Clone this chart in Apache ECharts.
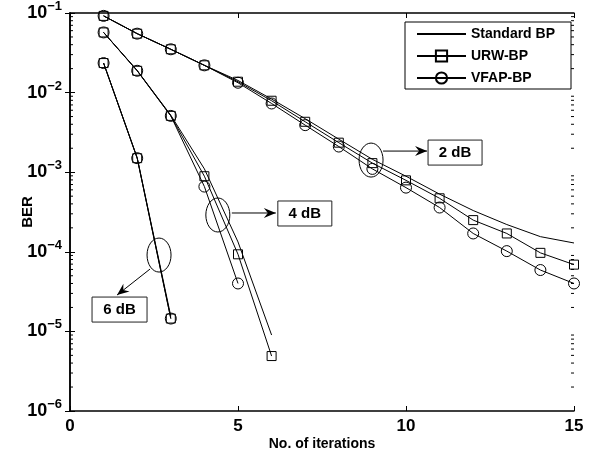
<!DOCTYPE html>
<html>
<head>
<meta charset="utf-8">
<script src="https://cdn.jsdelivr.net/npm/echarts@6/dist/echarts.min.js"></script>
<style>
html, body { margin: 0; padding: 0; background: #fff; }
#ber { width: 596px; height: 457px; }
</style>
</head>
<body>
<div id="ber"></div>
<script>
var myChart = echarts.init(document.getElementById('ber'));
var FONT = '"Liberation Sans", Arial, Helvetica, sans-serif';

// iterations and BER values
// 2 dB
var iter2 = [1, 2, 3, 4, 5, 6, 7, 8, 9, 10, 11, 12, 13, 14, 15];
var std2  = [0.092, 0.055, 0.035, 0.022, 0.0142, 0.0083, 0.0047, 0.0026, 0.00145, 0.00089, 0.00053, 0.00033, 0.00022, 0.000155, 0.000129];
var urw2  = [0.092, 0.055, 0.035, 0.022, 0.0137, 0.0079, 0.0043, 0.00235, 0.0013, 0.00079, 0.00047, 0.00025, 0.00017, 0.000097, 0.000069];
var vfap2 = [0.092, 0.055, 0.035, 0.022, 0.0133, 0.0073, 0.0039, 0.0021, 0.0011, 0.00064, 0.00036, 0.00017, 0.000102, 0.000059, 0.00004];
// 4 dB
var iter4  = [1, 2, 3, 4, 5, 6];
var std4   = [0.057, 0.019, 0.0052, 0.0011, 0.000133, 0.000009];
var urw4   = [0.057, 0.0188, 0.0051, 0.00089, 0.000093, 0.0000049];
var iter4v = [1, 2, 3, 4, 5];
var vfap4  = [0.057, 0.0188, 0.0051, 0.00066, 0.00004];
// 6 dB
var iter6 = [1, 2, 3];
var std6  = [0.0235, 0.00152, 0.0000155];
var urw6  = [0.0235, 0.0015, 0.0000145];
var vfap6 = [0.0235, 0.0015, 0.0000145];

var legendNames = ['Standard BP', 'URW-BP', 'VFAP-BP'];
var xTicks = [0, 5, 10, 15];
var minorTicks = [];
for (var e = -6; e <= -2; e++) {
    for (var m = 2; m <= 9; m++) minorTicks.push([0, m * Math.pow(10, e)]);
}

// annotations: label, ellipse centre in data units
var notes = [
    { text: '2 dB', at: [8.96, 1.42e-3], arrow: [12, -9, 56, -9], box: [57, -20, 54, 25] },
    { text: '4 dB', at: [4.40, 2.9e-4], arrow: [14, -2, 58, -2], box: [60, -14, 54, 25] },
    { text: '6 dB', at: [2.65, 9.1e-5], arrow: [-9, 14, -42, 40], box: [-67, 42, 55, 25] }
];

function pairs(xs, ys) {
    return xs.map(function (x, i) { return [x, ys[i]]; });
}

function lineSeries(name, data, symbol, size) {
    var plain = symbol === 'none';
    return {
        type: 'line',
        name: name,
        data: data,
        symbol: symbol,
        symbolSize: size,
        showSymbol: !plain,
        lineStyle: { color: '#000', width: 1 },
        itemStyle: plain
            ? { color: 'rgba(255,255,255,0)', borderColor: 'rgba(0,0,0,0)', borderWidth: 0 }
            : { color: 'rgba(255,255,255,0)', borderColor: '#000', borderWidth: 1 },
        emphasis: { disabled: true },
        z: 3
    };
}

var series = [
    lineSeries('Standard BP', pairs(iter2, std2), 'none', 0),
    lineSeries('URW-BP', pairs(iter2, urw2), 'rect', 9),
    lineSeries('VFAP-BP', pairs(iter2, vfap2), 'circle', 11),
    lineSeries('Standard BP', pairs(iter4, std4), 'none', 0),
    lineSeries('URW-BP', pairs(iter4, urw4), 'rect', 9),
    lineSeries('VFAP-BP', pairs(iter4v, vfap4), 'circle', 11),
    lineSeries('Standard BP', pairs(iter6, std6), 'none', 0),
    lineSeries('URW-BP', pairs(iter6, urw6), 'rect', 9),
    lineSeries('VFAP-BP', pairs(iter6, vfap6), 'circle', 11),
    {
        // minor log ticks on left and right edges
        type: 'custom',
        name: 'minor',
        silent: true,
        data: minorTicks,
        renderItem: function (params, api) {
            var y = api.coord([0, api.value(1)])[1];
            var cs = params.coordSys;
            var st = { stroke: '#000', lineWidth: 1 };
            return {
                type: 'group',
                children: [
                    { type: 'line', shape: { x1: cs.x, y1: y, x2: cs.x + 3, y2: y }, style: st },
                    { type: 'line', shape: { x1: cs.x + cs.width - 3, y1: y, x2: cs.x + cs.width, y2: y }, style: st }
                ]
            };
        },
        z: 4
    }
];

var option = {
    backgroundColor: '#fff',
    animation: false,
    grid: { left: 70, right: 22, top: 13, bottom: 46 },
    legend: {
        data: legendNames,
        orient: 'vertical',
        left: 405,
        top: 22,
        itemWidth: 49,
        itemHeight: 14,
        itemGap: 8,
        padding: [5, 16, 4, 11],
        borderColor: '#000',
        borderWidth: 1,
        backgroundColor: '#fff',
        textStyle: { fontFamily: FONT, fontSize: 14, fontWeight: 'bold', color: '#000' }
    },
    xAxis: [{
        type: 'value',
        min: 0,
        max: 15,
        interval: 5,
        name: 'No. of iterations',
        nameLocation: 'middle',
        nameGap: 26,
        nameMoveOverlap: false,
        nameTextStyle: { fontFamily: FONT, fontSize: 14, fontWeight: 'bold', color: '#000' },
        axisLine: { lineStyle: { color: '#000', width: 1.5 } },
        axisTick: { inside: true, length: 5, lineStyle: { color: '#000' } },
        axisLabel: {
            margin: 7, fontFamily: FONT, fontSize: 17, fontWeight: 'bold', color: '#000',
            customValues: xTicks
        },
        splitLine: { show: false }
    }, {
        type: 'value',
        position: 'top',
        min: 0,
        max: 15,
        interval: 5,
        axisLine: { lineStyle: { color: '#000', width: 1.5 } },
        axisTick: { inside: true, length: 5, lineStyle: { color: '#000' } },
        axisLabel: { show: false },
        splitLine: { show: false }
    }],
    yAxis: [{
        type: 'log',
        min: 1e-6,
        max: 1e-1,
        logBase: 10,
        name: 'BER',
        nameLocation: 'middle',
        nameGap: 35,
        nameMoveOverlap: false,
        nameTextStyle: { fontFamily: FONT, fontSize: 15, fontWeight: 'bold', color: '#000' },
        axisLine: { lineStyle: { color: '#000', width: 1.5 } },
        axisTick: { inside: true, length: 5, lineStyle: { color: '#000' } },
        axisLabel: {
            margin: 8,
            formatter: function (v) {
                return '{b|10}{s|' + String(Math.round(Math.log10(v))).replace('-', '\u2212') + '}';
            },
            rich: {
                b: { fontFamily: FONT, fontSize: 18, fontWeight: 'bold', color: '#000', lineHeight: 26 },
                s: { fontFamily: FONT, fontSize: 13, fontWeight: 'bold', color: '#000', lineHeight: 13, verticalAlign: 'top' }
            }
        },
        splitLine: { show: false }
    }, {
        type: 'log',
        position: 'right',
        min: 1e-6,
        max: 1e-1,
        logBase: 10,
        axisLine: { lineStyle: { color: '#000', width: 1.5 } },
        axisTick: { inside: true, length: 5, lineStyle: { color: '#000' } },
        axisLabel: { show: false },
        splitLine: { show: false }
    }],
    series: series
};

myChart.setOption(option, true);

// ellipses, arrows and boxed labels placed from data coordinates
function arrowHead(x1, y1, x2, y2) {
    var dx = x2 - x1, dy = y2 - y1, len = Math.sqrt(dx * dx + dy * dy);
    var ux = dx / len, uy = dy / len, px = -uy, py = ux;
    var L = 12, W = 5, N = 8;
    return [
        [x2, y2],
        [x2 - ux * L + px * W, y2 - uy * L + py * W],
        [x2 - ux * N, y2 - uy * N],
        [x2 - ux * L - px * W, y2 - uy * L - py * W]
    ];
}

var graphics = [];
notes.forEach(function (n) {
    var c = myChart.convertToPixel({ xAxisIndex: 0, yAxisIndex: 0 }, n.at);
    var cx = c[0], cy = c[1];
    var a = n.arrow, b = n.box;
    graphics.push({
        type: 'ellipse', shape: { cx: cx, cy: cy, rx: 12, ry: 17 },
        style: { fill: null, stroke: '#000', lineWidth: 1 }, z: 10
    });
    graphics.push({
        type: 'line', shape: { x1: cx + a[0], y1: cy + a[1], x2: cx + a[2], y2: cy + a[3] },
        style: { stroke: '#000', lineWidth: 1 }, z: 10
    });
    graphics.push({
        type: 'polygon', shape: { points: arrowHead(cx + a[0], cy + a[1], cx + a[2], cy + a[3]) },
        style: { fill: '#000' }, z: 10
    });
    graphics.push({
        type: 'rect', shape: { x: cx + b[0], y: cy + b[1], width: b[2], height: b[3] },
        style: { fill: '#fff', stroke: '#222', lineWidth: 1 }, z: 10
    });
    graphics.push({
        type: 'text',
        x: cx + b[0] + b[2] / 2, y: cy + b[1] + b[3] / 2,
        style: {
            text: n.text, fill: '#000', font: 'bold 15px ' + FONT,
            textAlign: 'center', textVerticalAlign: 'middle'
        },
        z: 11
    });
});
myChart.setOption({ graphic: graphics });
</script>
</body>
</html>
